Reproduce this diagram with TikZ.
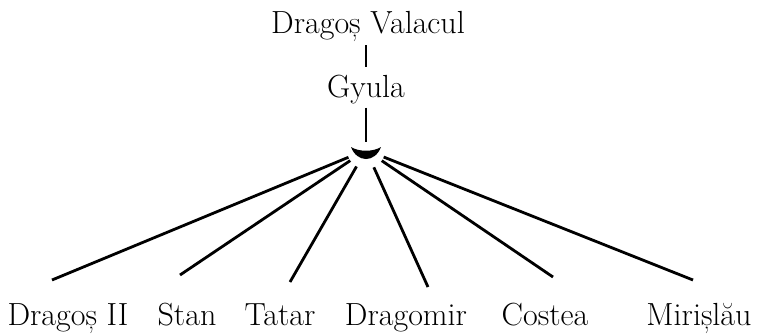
\documentclass[tikz,border=0pt]{standalone}
\usepackage{fontspec}

\begin{document}
\begin{tikzpicture}[x=1pt, y=-1pt, font=\fontsize{32}{36}\selectfont\addfontfeature{FakeBold=1.6},
	person/.style={inner sep=0pt, anchor=base},
	link/.style={line width=2.8pt}]
	\useasboundingbox (0,0) rectangle (758,333);
	% ancestors
	\node [person] (valacul) at (368,33) {Dragoș Valacul};
	\node [person] (gyula) at (366,97) {Gyula};
	\coordinate (hub) at (366,150);
	\draw [link, shorten <=4pt, shorten >=7pt] (valacul.south -| gyula.north) -- (gyula.north);
	\draw [link, shorten <=4pt, shorten >=8pt] (gyula.south) -- (hub);
	% marriage sign
	\fill (hub) ++(-15,-3) .. controls +(8,5) and +(-8,5) .. ++(30,0)
		.. controls +(-6,16) and +(6,16) .. ++(-30,0) -- cycle;
	% sons
	\node [person] (dragos) at (68,325) {Dragoș II};
	\node [person] (stan) at (187,325) {Stan};
	\node [person] (tatar) at (280,325) {Tatar};
	\node [person] (dragomir) at (406,325) {Dragomir};
	\node [person] (costea) at (545,325) {Costea};
	\node [person] (mirislau) at (699,325) {Mirișlău};
	\coordinate (e1) at (52,280);
	\coordinate (e2) at (180,275);
	\coordinate (e3) at (290,282);
	\coordinate (e4) at (428,287);
	\coordinate (e5) at (553,277);
	\coordinate (e6) at (693,280);
	\foreach \i in {1,...,6}
		\draw [link, shorten <=19pt] (hub) -- (e\i);
\end{tikzpicture}
\end{document}
